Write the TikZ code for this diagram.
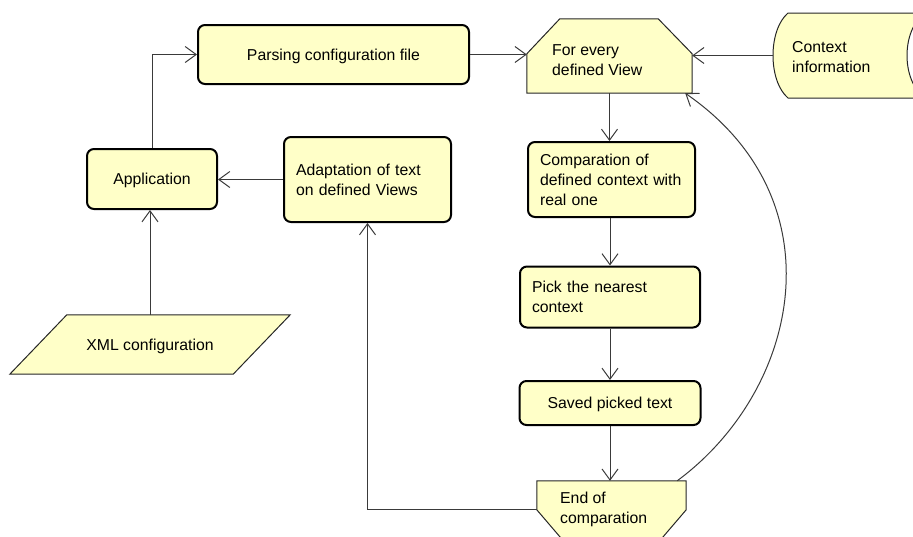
\documentclass[tikz,border=0pt]{standalone}
\usepackage{fontspec}
\setmainfont{Liberation Sans}
\usetikzlibrary{arrows.meta,calc}
\definecolor{boxfill}{HTML}{FFFFC8}
\definecolor{edge}{HTML}{3A3A3A}
\begin{document}
\begin{tikzpicture}[x=1pt,y=-1pt,
  font=\fontsize{15.8}{20}\selectfont,
  stepbox/.style={draw=black, line width=2pt, fill=boxfill, rounded corners=7pt, inner sep=0pt},
  oneline/.style={text depth=0pt},
  anchorbox/.style={inner sep=0pt},
  shapeline/.style={draw=black!85, line width=1pt, fill=boxfill},
  conn/.style={draw=edge, line width=1pt, -{Straight Barb[length=11pt,width=16pt]}},
  lbl/.style={align=left, inner sep=0pt}
]
\useasboundingbox (0,0) rectangle (913,536);
\clip (0,0) rectangle (913,536);

% rounded process boxes
\node[stepbox, oneline, minimum width=271pt, minimum height=59pt] (parse) at (333.5,54.5) {Parsing configuration file};
\node[stepbox, oneline, minimum width=130pt, minimum height=60pt] (app) at (152,179) {Application};
\node[stepbox, minimum width=167pt, minimum height=85pt, text width=143pt, align=left] (adapt) at (367.5,179.5) {Adaptation of text\\on defined Views};
\node[stepbox, minimum width=167pt, minimum height=75pt, text width=143pt, align=left] (comp) at (611.5,179.5) {Comparation of\\defined context with\\real one};
\node[stepbox, minimum width=180pt, minimum height=61pt, text width=156pt, align=left] (pick) at (610,297) {Pick the nearest\\context};
\node[stepbox, oneline, minimum width=181pt, minimum height=44pt] (saved) at (610,403) {Saved picked text};

% loop start
\node[anchorbox, minimum width=165pt, minimum height=74pt] (view) at (609.5,56) {};
\draw[shapeline] ($(view.north west)+(33,0)$) -- ($(view.north east)+(-34,0)$)
  -- ($(view.north east)+(0,35)$) -- (view.south east) -- (view.south west)
  -- ($(view.north west)+(0,35)$) -- cycle;
\node[lbl, anchor=west] (viewtext) at (552,60) {For every\\defined View};

% loop end
\node[anchorbox, minimum width=149pt, minimum height=59pt] (endc) at (611.5,510.5) {};
\draw[shapeline] (endc.north west) -- (endc.north east) -- ($(endc.north east)+(0,29)$)
  -- ($(endc.south east)+(-26,0)$) -- ($(endc.south west)+(26,0)$)
  -- ($(endc.north west)+(0,29)$) -- cycle;
\node[lbl, anchor=west] (endtext) at (560,509.5) {End of\\comparation};

% stored data
\node[anchorbox, minimum width=152pt, minimum height=85pt] (ctx) at (849,55.5) {};
\draw[shapeline] (788,13) -- (925,13) .. controls (901,30) and (901,81) .. (925,98)
  -- (788,98) .. controls (768,81) and (768,30) .. (788,13) -- cycle;
\node[lbl, anchor=west] (ctxtext) at (792,57) {Context\\information};

% input data
\node[anchorbox, minimum width=280pt, minimum height=59pt] (xml) at (150,344.5) {};
\draw[shapeline] ($(xml.north west)+(57,0)$) -- (xml.north east)
  -- ($(xml.south east)+(-57,0)$) -- (xml.south west) -- cycle;
\node[lbl, oneline] (xmltext) at (150,345) {XML configuration};

% connectors
\draw[conn] (app.north) |- (parse.west);
\draw[conn] (parse.east) -- (parse.east -| view.west);
\draw[conn] (ctx.west) -- (ctx.west -| view.east);
\draw[conn] (view.south) -- (view.south |- comp.north);
\draw[conn] (comp.south -| pick.north) -- (pick.north);
\draw[conn] (pick.south) -- (saved.north);
\draw[conn] (saved.south) -- (saved.south |- endc.north);
\draw[conn] ($(endc.north west)+(0,29)$) -| (adapt.south);
\draw[conn] (adapt.west) -- (adapt.west -| app.east);
\draw[conn] (xml.north) -- (xml.north |- app.south);
\draw[conn] ($(endc.north east)+(-9,0)$) .. controls (800,390) and (840,200) .. ($(view.south east)+(-7,0)$);
\end{tikzpicture}
\end{document}
